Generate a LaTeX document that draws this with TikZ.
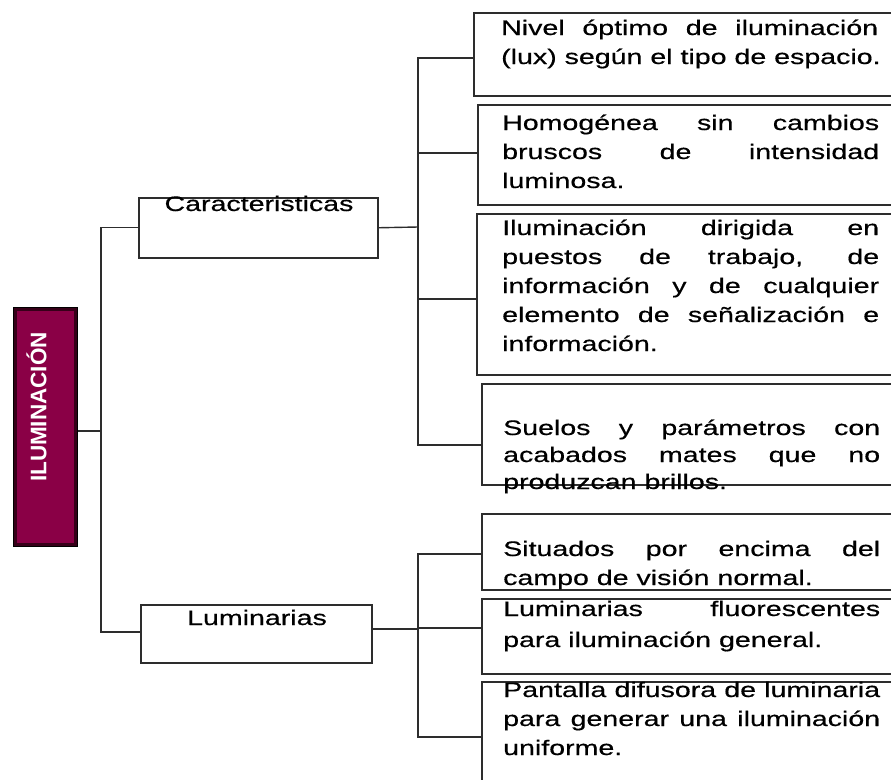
\documentclass[tikz,border=0pt]{standalone}
\usepackage{fontspec}
\setmainfont{Liberation Sans}
\newfontfamily\wfont[FakeStretch=1.36,FakeBold=0.5]{Liberation Sans}
\newfontfamily\bfontil{Liberation Sans Bold}
\usetikzlibrary{calc}
\definecolor{lc}{RGB}{45,45,45}
\definecolor{ilfill}{RGB}{138,0,70}
\definecolor{ildark}{RGB}{55,0,25}
\newcommand{\jl}[1]{\makebox[377pt][s]{#1}}
\begin{document}
\begin{tikzpicture}[x=1pt,y=-1pt,
  ln/.style={draw=lc,line width=1.4pt},
  bx/.style={draw=lc,line width=1.5pt,rectangle,inner sep=0,anchor=north west},
  txt/.style={font=\wfont\fontsize{21}{29}\selectfont,align=left,inner sep=0,anchor=base west,text=black},
  lbl/.style={font=\wfont\fontsize{21}{29}\selectfont,inner sep=0,anchor=base,text=black},
]
\useasboundingbox (0,0) rectangle (891,779);

% root box
\node[rectangle,inner sep=0,anchor=north west,minimum width=64,minimum height=239,
      fill=ildark,draw=black,line width=1.2pt] (il) at (13,307) {};
\fill[ilfill] ($(il.north west)+(4,4)$) rectangle ($(il.south east)+(-4,-4)$);
\node[rotate=90,inner sep=0,text=white,font=\bfontil\fontsize{22.5}{26}\selectfont] (iltxt) at (36.5,407) {ILUMINACIÓN};

% second level
\node[bx,minimum width=239,minimum height=60] (car) at (138,197) {};
\node[lbl] (cartxt) at (259,211) {Caracteristicas};
\node[bx,minimum width=231,minimum height=58] (lum) at (140,604) {};
\node[lbl] (lumtxt) at (257,625) {Luminarias};

% right boxes
\node[bx,minimum width=430,minimum height=83] (c1) at (473,12) {};
\node[bx,minimum width=430,minimum height=100] (c2) at (477,104) {};
\node[bx,minimum width=430,minimum height=161] (c3) at (476,213) {};
\node[bx,minimum width=430,minimum height=101] (c4) at (481,383) {};
\node[bx,minimum width=430,minimum height=76] (l1) at (481,513) {};
\node[bx,minimum width=430,minimum height=75] (l2) at (481,598) {};
\node[bx,minimum width=430,minimum height=130] (l3) at (481,681) {};

% texts (anchor = baseline of the last line)
\node[txt] (c1t) at (501,64) {\jl{Nivel óptimo de iluminación}\\(lux) según el tipo de espacio.};
\node[txt] (c2t) at (502,188) {\jl{Homogénea sin cambios}\\\jl{bruscos de intensidad}\\luminosa.};
\node[txt] (c3t) at (502,351) {\jl{Iluminación dirigida en}\\\jl{puestos de trabajo, de}\\\jl{información y de cualquier}\\\jl{elemento de señalización e}\\información.};
\node[txt,font=\wfont\fontsize{21}{27}\selectfont] (c4t) at (503,489) {\jl{Suelos y parámetros con}\\\jl{acabados mates que no}\\produzcan brillos.};
\node[txt] (l1t) at (503,585) {\jl{Situados por encima del}\\campo de visión normal.};
\node[txt,font=\wfont\fontsize{21}{31}\selectfont] (l2t) at (503,647) {\jl{Luminarias fluorescentes}\\para iluminación general.};
\node[txt] (l3t) at (503,755) {\jl{Pantalla difusora de luminaria}\\\jl{para generar una iluminación}\\uniforme.};

% spine coordinates
\coordinate (a0) at (101,431);
\coordinate (a1) at (101,632);
\coordinate (b0) at (418,58);
\coordinate (b1) at (418,445);
\coordinate (bc) at (418,227);
\coordinate (b2) at (418,153);
\coordinate (b3) at (418,299);
\coordinate (d0) at (418,554);
\coordinate (d1) at (418,737);
\coordinate (dl) at (418,629);
\coordinate (d2) at (418,628);

% connectors
\draw[ln] (il.east |- a0) -- (a0);
\draw[ln] (car.west) -| (a1) -- (lum.west |- a1);
\draw[ln] (car.east) -- (bc);
\draw[ln] (c1.west |- b0) -- (b0) -- (b1) -- (c4.west |- b1);
\draw[ln] (b2) -- (c2.west |- b2);
\draw[ln] (b3) -- (c3.west |- b3);
\draw[ln] (lum.east |- dl) -- (dl);
\draw[ln] (l1.west |- d0) -- (d0) -- (d1) -- (l3.west |- d1);
\draw[ln] (d2) -- (l2.west |- d2);
\end{tikzpicture}
\end{document}
